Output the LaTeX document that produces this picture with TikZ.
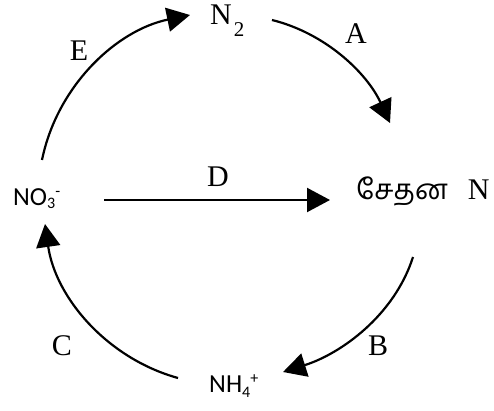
\documentclass[tikz,border=0pt]{standalone}
\usepackage{fontspec}
\setmainfont{Liberation Serif}
\newfontfamily\calfont{Carlito}
\newfontfamily\tamilfont[Script=Tamil]{Hind Madurai}
\usetikzlibrary{arrows.meta}
\begin{document}
\begin{tikzpicture}[x=1pt,y=1pt,
  lbl/.style={font=\fontsize{30}{30}\selectfont, inner sep=0pt},
  chem/.style={font=\calfont\fontsize{26}{26}\selectfont, inner sep=0pt, anchor=base west},
  arr/.style={line width=2.2pt, -{Triangle[length=23pt,width=24pt]}}]
\fill[white] (0,0) rectangle (494,410);
\useasboundingbox (0,0) rectangle (494,410);

\node[anchor=base west, inner sep=0pt, font=\fontsize{30}{30}\selectfont] (n2) at (210,385)
  {N\hspace{2pt}\raisebox{-12pt}{\fontsize{21}{21}\selectfont 2}};
\node[chem] (no3) at (13,205)
  {NO\raisebox{-3pt}{\fontsize{16}{16}\selectfont 3}\raisebox{9pt}{\fontsize{16}{16}\selectfont -}};
\node[chem] (nh4) at (209,18)
  {NH\raisebox{-5pt}{\fontsize{16}{16}\selectfont 4}\raisebox{9pt}{\fontsize{16}{16}\selectfont +}};
\node[anchor=base west, inner sep=0pt, font=\fontsize{30}{30}\selectfont] (org) at (356,211)
  {{\tamilfont\fontsize{28}{28}\selectfont சேதன}\hspace{20pt}N};

\node[lbl] (lE) at (79,359) {E};
\node[lbl] (lA) at (356,376) {A};
\node[lbl] (lD) at (218,233) {D};
\node[lbl] (lC) at (62,64) {C};
\node[lbl] (lB) at (378,64) {B};

\draw[arr] ([shift={(29,45)}]no3.base west) to[out=78.5,in=191.7,looseness=0.93] ([shift={(-20,10)}]n2.base west);
\draw[arr] ([shift={(62,5)}]n2.base west) to[out=-13.9,in=114.8,looseness=0.9] ([shift={(34,76)}]org.base west);
\draw[arr] ([shift={(57,-58)}]org.base west) to[out=-107.7,in=17.5,looseness=0.9] ([shift={(74,20)}]nh4.base west);
\draw[arr] ([shift={(-31,14)}]nh4.base west) to[out=164.5,in=-81.9,looseness=0.93] ([shift={(32,-19)}]no3.base west);
\draw[arr] ([shift={(91,5)}]no3.base west) -- ([shift={(-26,-1)}]org.base west);
\end{tikzpicture}
\end{document}
